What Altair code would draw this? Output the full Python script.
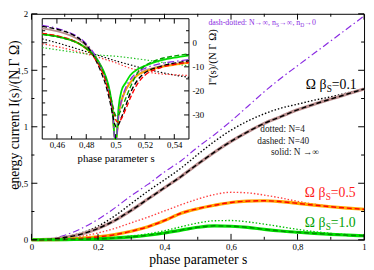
import altair as alt
import pandas as pd

# ---------------- main panel data ----------------
s_main = [0.0, 0.05, 0.1, 0.15, 0.2, 0.25, 0.3, 0.35, 0.4, 0.45, 0.5,
          0.55, 0.6, 0.65, 0.7, 0.75, 0.8, 0.85, 0.9, 0.95, 1.0]
purple_main = [0.0, 0.008, 0.04, 0.1, 0.18, 0.28, 0.39, 0.49, 0.6, 0.7, 0.82,
               0.93, 1.05, 1.18, 1.31, 1.43, 1.54, 1.65, 1.76, 1.87, 1.98]
b01_solid = [0.0, 0.003, 0.02, 0.05, 0.1, 0.17, 0.26, 0.36, 0.46, 0.56, 0.67,
             0.775, 0.87, 0.955, 1.03, 1.09, 1.15, 1.2, 1.245, 1.29, 1.335]
b01_dashed = [0.0, 0.003, 0.02, 0.05, 0.1, 0.17, 0.26, 0.36, 0.46, 0.56, 0.67,
              0.775, 0.87, 0.955, 1.03, 1.09, 1.15, 1.2, 1.245, 1.29, 1.335]
b01_dotted = [0.0, 0.004, 0.025, 0.06, 0.12, 0.21, 0.32, 0.43, 0.53, 0.635, 0.755,
              0.87, 0.97, 1.05, 1.115, 1.165, 1.2, 1.235, 1.265, 1.3, 1.335]
o05_solid = [0.0, 0.0, 0.003, 0.012, 0.025, 0.045, 0.075, 0.115, 0.17, 0.235, 0.275,
             0.305, 0.33, 0.342, 0.345, 0.337, 0.322, 0.306, 0.292, 0.28, 0.27]
r05_dashed = [0.0, 0.0, 0.003, 0.012, 0.025, 0.045, 0.075, 0.115, 0.17, 0.235, 0.275,
              0.305, 0.33, 0.342, 0.345, 0.337, 0.322, 0.306, 0.292, 0.28, 0.27]
r05_dotted = [0.0, 0.002, 0.01, 0.03, 0.06, 0.1, 0.15, 0.2, 0.255, 0.31, 0.36,
              0.4, 0.42, 0.415, 0.395, 0.37, 0.34, 0.315, 0.295, 0.28, 0.27]
g10_solid = [0.0, 0.0, 0.001, 0.004, 0.008, 0.015, 0.025, 0.04, 0.06, 0.085, 0.11,
             0.123, 0.12, 0.11, 0.092, 0.077, 0.066, 0.056, 0.048, 0.041, 0.035]
g10_dashed = [0.0, 0.0, 0.001, 0.004, 0.008, 0.015, 0.025, 0.04, 0.06, 0.085, 0.11,
              0.123, 0.12, 0.11, 0.092, 0.077, 0.066, 0.056, 0.048, 0.041, 0.035]
g10_dotted = [0.0, 0.0, 0.002, 0.005, 0.011, 0.02, 0.033, 0.052, 0.08, 0.115, 0.148,
              0.168, 0.17, 0.158, 0.138, 0.115, 0.092, 0.072, 0.057, 0.045, 0.036]

# ---------------- inset data ----------------
s_in = [0.45, 0.46, 0.47, 0.475, 0.48, 0.485, 0.49, 0.493, 0.496, 0.498, 0.4995,
        0.5005, 0.502, 0.504, 0.507, 0.51, 0.515, 0.52, 0.53, 0.54, 0.55]
purple_in = [7.2, 6.0, 3.8, 2.2, -0.4, -4.2, -10, -14.5, -21.5, -29.5, -40,
             -40, -30, -24, -18.5, -15.3, -12.2, -10.6, -8.8, -7.8, -7.0]
b01_solid_in = [6.0, 4.8, 2.8, 1.2, -1.2, -4.6, -10, -14.5, -21.5, -29.5, -40,
                -40, -30.5, -24.5, -19.5, -16.5, -13.3, -11.6, -9.8, -8.8, -8.0]
b01_dashed_in = [6.8, 5.6, 3.6, 1.8, -1.0, -5.5, -12, -17, -24, -30, -34,
                 -35, -34, -31, -26, -21, -15.5, -12.5, -10, -8.5, -7.5]
o05_solid_in = [3.7, 2.7, 1.0, -0.4, -2.5, -5.4, -10, -14.5, -21, -29, -40,
                -40, -30, -24, -19.5, -16.5, -13.5, -12, -10.2, -9.2, -8.4]
r05_dashed_in = [3.9, 2.9, 1.2, -0.2, -2.4, -5.8, -11, -15.5, -22, -27, -30.5,
                 -32.5, -33, -31.5, -27.5, -23, -17, -13.5, -10.5, -9, -8.2]
g10_solid_in = [3.6, 2.6, 1.0, -0.3, -2.3, -5.0, -9.5, -13.5, -20, -28, -40,
                -40, -27, -20, -16.5, -13.5, -11, -9.6, -7.4, -6.2, -5.2]
g10_dashed_in = [3.5, 2.5, 0.9, -0.4, -2.4, -5.2, -10, -14, -20.5, -26, -29.5,
                 -30.5, -30, -27.5, -23, -18.5, -12.5, -9.6, -6.8, -5.5, -4.6]
s_dot = [0.45, 0.46, 0.47, 0.48, 0.49, 0.5, 0.51, 0.52, 0.53, 0.54, 0.55]
b01_dotted_in = [1.6, 0.0, -1.8, -3.7, -5.6, -7.5, -9.2, -10.8, -12.2, -13.4, -14.4]
r05_dotted_in = [-0.4, -1.6, -3.0, -4.6, -6.4, -8.3, -10.6, -12.0, -12.9, -13.3, -13.6]
g10_dotted_in = [-2.0, -2.9, -3.8, -4.6, -5.2, -5.6, -6.3, -7.1, -8.0, -8.8, -9.6]

# ticks
main_x_major = [0.0, 0.2, 0.4, 0.6, 0.8, 1.0]
main_x_minor = [0.1, 0.3, 0.5, 0.7, 0.9]
main_y_major = [0.0, 0.5, 1.0, 1.5, 2.0]
main_y_minor = [0.25, 0.75, 1.25, 1.75]
in_x_major = [0.46, 0.48, 0.5, 0.52, 0.54]
in_x_minor = [0.47, 0.49, 0.51, 0.53]
in_y_major = [-30, -20, -10, 0]
in_y_minor = [-35, -25, -15, -5, 5]

# annotations
lab_s = [0.825, 0.822, 0.822]
lab_y = [1.336, 0.378, 0.109]
lab_val = ["=0.1", "=0.5", "=1.0"]
lab_color = ["black", "#ff1a1a", "#00a000"]
note_text = ["dotted: N=4", "dashed: N=40", "solid: N \u2192\u221e"]
note_s = [0.688, 0.679, 0.72]
note_y = [0.958, 0.849, 0.748]
purple_note = ["dash-dotted: N\u2192\u221e, n", "S", "\u2192\u221e, n", "D", "\u21920"]
purple_note_s = 0.532
purple_note_y = 1.9

W, H = 340, 231
IX = [11, 161]
IY = [128, 5]
FONT = "Liberation Serif"
PURPLE = "#8a2be2"

sx_m = alt.Scale(domain=[0, 1], nice=False, zero=False)
sy_m = alt.Scale(domain=[0, 2], nice=False, zero=False)
sx_i = alt.Scale(domain=[0.45, 0.55], range=IX, nice=False, zero=False)
sy_i = alt.Scale(domain=[-40, 10], range=IY, nice=False, zero=False)

comma = "replace('' + datum.value, '.', ',')"
ax_mx = alt.Axis(orient="bottom", values=main_x_major, labelExpr=comma, ticks=False,
                 domain=False, grid=False, labelPadding=3, labelFontSize=9,
                 labelFlush=False, labelOverlap=False,
                 title="phase parameter s", titleFontSize=14, titleFontWeight="normal",
                 titleBaseline="alphabetic", titleY=24)
ax_my = alt.Axis(orient="left", values=main_y_major, labelExpr=comma, ticks=False,
                 domain=False, grid=False, labelPadding=4, labelFontSize=9,
                 labelOverlap=False,
                 title="energy current I(s)/(N \u0393 \u03a9)", titleFontSize=14,
                 titleFontWeight="normal", titleAngle=270, titleX=-17.5, titleY=103,
                 titleBaseline="middle")
ax_ix = alt.Axis(orient="bottom", offset=-(H - IY[0]), values=in_x_major,
                 labelExpr=comma, ticks=False, domain=False, grid=False, labelPadding=2,
                 labelFontSize=9, labelFlush=False, labelOverlap=False,
                 title="phase parameter s", titleFontSize=11, titleFontWeight="normal",
                 titleBaseline="alphabetic", titleY=23)
ax_iy = alt.Axis(orient="right", offset=-(W - IX[1]), values=in_y_major,
                 labelExpr="'' + datum.value", ticks=False, domain=False, grid=False,
                 labelPadding=3, labelFontSize=9, labelOverlap=False,
                 title="I''(s)/(N \u0393 \u03a9)", titleFontSize=11,
                 titleFontWeight="normal", titleAngle=270, titleX=24, titleY=44,
                 titleBaseline="middle")


def curve(xs, ys, sx, sy, ax, ay, **mk):
    df = pd.DataFrame({"x": xs, "y": ys})
    return alt.Chart(df).mark_line(interpolate="monotone", **mk).encode(
        x=alt.X("x:Q", scale=sx, axis=ax), y=alt.Y("y:Q", scale=sy, axis=ay))


def xticks(vals, sx, ax, y0, y1):
    df = pd.DataFrame({"x": vals})
    return alt.Chart(df).mark_rule(color="black", strokeWidth=1).encode(
        x=alt.X("x:Q", scale=sx, axis=ax), y=alt.value(y0), y2=alt.value(y1))


def yticks(vals, sy, ay, x0, x1):
    df = pd.DataFrame({"y": vals})
    return alt.Chart(df).mark_rule(color="black", strokeWidth=1).encode(
        y=alt.Y("y:Q", scale=sy, axis=ay), x=alt.value(x0), x2=alt.value(x1))


DOT = [1.5, 2]
DASH = [5, 3]
DASHDOT = [7, 3, 1.5, 3]

M = dict(sx=sx_m, sy=sy_m, ax=ax_mx, ay=ax_my)
main_layers = [
    curve(s_main, purple_main, **M, color=PURPLE, strokeWidth=1.2, strokeDash=DASHDOT),
    curve(s_main, b01_dotted, **M, color="black", strokeWidth=1.4, strokeDash=DOT),
    curve(s_main, r05_dotted, **M, color="#ff4040", strokeWidth=1.4, strokeDash=DOT),
    curve(s_main, g10_dotted, **M, color="#00c000", strokeWidth=1.4, strokeDash=DOT),
    curve(s_main, b01_solid, **M, color="#bc8f8f", strokeWidth=3.2),
    curve(s_main, o05_solid, **M, color="#ffa500", strokeWidth=3.2),
    curve(s_main, g10_solid, **M, color="#00e000", strokeWidth=3.2),
    curve(s_main, b01_dashed, **M, color="black", strokeWidth=1.5, strokeDash=DASH),
    curve(s_main, r05_dashed, **M, color="#ff0000", strokeWidth=1.5, strokeDash=DASH),
    curve(s_main, g10_dashed, **M, color="#008c00", strokeWidth=1.5, strokeDash=DASH),
    xticks(main_x_major, sx_m, ax_mx, H, H - 6), xticks(main_x_major, sx_m, ax_mx, 0, 6),
    xticks(main_x_minor, sx_m, ax_mx, H, H - 3), xticks(main_x_minor, sx_m, ax_mx, 0, 3),
    yticks(main_y_major, sy_m, ax_my, 0, 6), yticks(main_y_major, sy_m, ax_my, W, W - 6),
    yticks(main_y_minor, sy_m, ax_my, 0, 3), yticks(main_y_minor, sy_m, ax_my, W, W - 3),
]

lab_df = pd.DataFrame({"x": lab_s, "y": lab_y, "v": lab_val, "c": lab_color})
lab_base = alt.Chart(lab_df).encode(
    x=alt.X("x:Q", scale=sx_m, axis=ax_mx), y=alt.Y("y:Q", scale=sy_m, axis=ax_my),
    color=alt.Color("c:N", scale=None))
main_layers += [
    lab_base.mark_text(text="\u03a9 \u03b2", align="left", baseline="alphabetic",
                       fontSize=14, font=FONT),
    lab_base.mark_text(text="S", align="left", baseline="alphabetic", fontSize=9.5,
                       font=FONT, dx=21.3, dy=3),
    lab_base.mark_text(align="left", baseline="alphabetic", fontSize=14, font=FONT,
                       dx=26.6).encode(text="v:N"),
]

note_df = pd.DataFrame({"x": note_s, "y": note_y, "t": note_text})
main_layers.append(
    alt.Chart(note_df).mark_text(align="left", baseline="alphabetic", fontSize=9.5,
                                 font=FONT, color="#222222").encode(
        x=alt.X("x:Q", scale=sx_m, axis=ax_mx), y=alt.Y("y:Q", scale=sy_m, axis=ax_my),
        text="t:N"))

pn_df = pd.DataFrame({"x": [purple_note_s], "y": [purple_note_y]})
pn_dx = [0, 69.1, 72.2, 93.9, 97.9]
pn_size = [8, 5.7, 8, 5.7, 8]
pn_dy = [0, 2.2, 0, 2.2, 0]
for txt, dx, fs, dy in zip(purple_note, pn_dx, pn_size, pn_dy):
    main_layers.append(
        alt.Chart(pn_df).mark_text(text=txt, align="left", baseline="alphabetic",
                                   fontSize=fs, font=FONT, color=PURPLE, dx=dx, dy=dy)
        .encode(x=alt.X("x:Q", scale=sx_m, axis=ax_mx),
                y=alt.Y("y:Q", scale=sy_m, axis=ax_my)))

main = alt.layer(*main_layers)

# ---------------- inset ----------------
I = dict(sx=sx_i, sy=sy_i, ax=ax_ix, ay=ax_iy)
box_df = pd.DataFrame({"x": [0.45], "x2": [0.55], "y": [-40], "y2": [10]})
inset_layers = [
    alt.Chart(box_df).mark_rect(fill="white", stroke="black", strokeWidth=1).encode(
        x=alt.X("x:Q", scale=sx_i, axis=ax_ix), x2="x2:Q",
        y=alt.Y("y:Q", scale=sy_i, axis=ax_iy), y2="y2:Q"),
    curve(s_dot, b01_dotted_in, **I, color="black", strokeWidth=1.2, strokeDash=DOT),
    curve(s_dot, r05_dotted_in, **I, color="#ff3030", strokeWidth=1.2, strokeDash=DOT),
    curve(s_dot, g10_dotted_in, **I, color="#20c020", strokeWidth=1.2, strokeDash=DOT),
    curve(s_in, b01_solid_in, **I, color="#bc8f8f", strokeWidth=1.8),
    curve(s_in, o05_solid_in, **I, color="#ffa500", strokeWidth=1.8),
    curve(s_in, g10_solid_in, **I, color="#00e000", strokeWidth=1.8),
    curve(s_in, purple_in, **I, color=PURPLE, strokeWidth=1.3, strokeDash=DASHDOT),
    curve(s_in, b01_dashed_in, **I, color="black", strokeWidth=1.4, strokeDash=[5, 2.5]),
    curve(s_in, r05_dashed_in, **I, color="#ff0000", strokeWidth=1.4, strokeDash=[5, 2.5]),
    curve(s_in, g10_dashed_in, **I, color="#00a000", strokeWidth=1.4, strokeDash=[5, 2.5]),
    xticks(in_x_major, sx_i, ax_ix, IY[0], IY[0] - 5),
    xticks(in_x_major, sx_i, ax_ix, IY[1], IY[1] + 5),
    xticks(in_x_minor, sx_i, ax_ix, IY[0], IY[0] - 3),
    xticks(in_x_minor, sx_i, ax_ix, IY[1], IY[1] + 3),
    yticks(in_y_major, sy_i, ax_iy, IX[0], IX[0] + 5),
    yticks(in_y_major, sy_i, ax_iy, IX[1], IX[1] - 5),
    yticks(in_y_minor, sy_i, ax_iy, IX[0], IX[0] + 3),
    yticks(in_y_minor, sy_i, ax_iy, IX[1], IX[1] - 3),
]
inset = alt.layer(*inset_layers)

chart = alt.layer(main, inset).resolve_scale(
    x="independent", y="independent"
).properties(
    width=W, height=H,
    autosize=alt.AutoSizeParams(type="none"),
    padding={"left": 24, "top": 3, "right": 2, "bottom": 28},
).configure_axis(
    labelFont=FONT, titleFont=FONT, labelColor="black", titleColor="black"
).configure_text(font=FONT).configure_view(stroke="black", strokeWidth=1)

chart.save("out.html", embed_options={"renderer": "svg", "actions": False})
